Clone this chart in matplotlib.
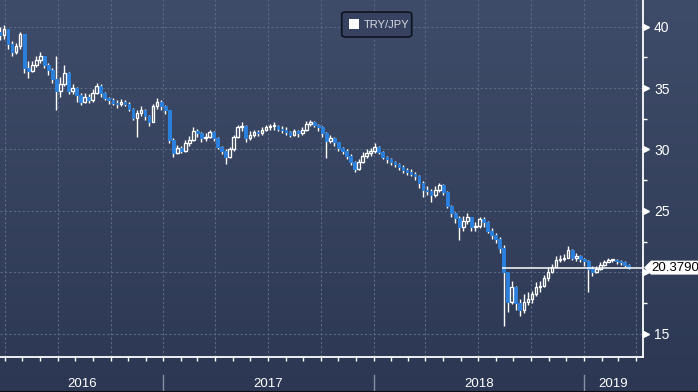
import numpy as np
import pandas as pd
import matplotlib
matplotlib.use("Agg")
import matplotlib.pyplot as plt
import matplotlib.dates as mdates
from matplotlib.patches import FancyBboxPatch, Rectangle, Polygon
from matplotlib.transforms import blended_transform_factory

# ---- data: weekly TRY/JPY candles ----
first_week = "2016-03-23"
first_open = 39.6
closes = [
    39.3, 39.8, 38.6, 37.9, 38.4, 39.4, 36.6, 36.4, 36.9, 37.3,
    37.6, 36.9, 36.5, 35.7, 34.8, 35.3, 36.2, 34.8, 35.0, 34.4,
    33.9, 34.3, 34.0, 34.6, 35.2, 34.6, 34.2, 34.0, 33.8, 33.7,
    33.9, 33.7, 33.3, 32.6, 33.0, 33.2, 32.7, 32.2, 33.5, 33.9,
    33.5, 33.2, 30.8, 29.7, 30.1, 29.9, 30.5, 30.8, 31.5, 31.3,
    30.9, 31.0, 31.4, 30.9, 30.2, 29.9, 29.4, 30.0, 31.0, 31.8,
    31.9, 30.9, 31.2, 31.4, 31.3, 31.6, 31.8, 31.9, 31.9, 31.7,
    31.6, 31.4, 31.2, 31.5, 31.3, 31.6, 32.1, 32.2, 32.0, 31.8,
    31.3, 30.7, 30.9, 30.6, 30.1, 29.9, 29.5, 29.0, 28.4, 29.0,
    29.5, 29.7, 29.9, 30.2, 29.8, 29.4, 29.2, 29.0, 28.8, 28.6,
    28.3, 28.2, 28.0, 27.8, 27.3, 26.7, 26.6, 26.3, 26.7, 27.1,
    26.5, 25.4, 24.8, 24.4, 23.7, 24.2, 24.5, 23.7, 23.8, 24.3,
    24.1, 23.4, 23.0, 22.7, 22.0, 20.0, 17.6, 18.8, 17.5, 16.9,
    17.6, 17.8, 18.2, 18.8, 18.9, 19.5, 20.0, 20.4, 21.0, 21.1,
    21.2, 21.8, 21.2, 21.3, 21.1, 20.9, 20.3, 20.0, 20.3, 20.6,
    20.8, 21.0, 21.0, 20.9, 20.8, 20.6, 20.38,
]
highs = [
    40.0, 40.1, 39.7, 38.8, 38.7, 39.6, 39.3, 37.2, 37.2, 37.6,
    37.9, 37.6, 37.0, 36.6, 37.6, 35.9, 36.9, 36.3, 35.3, 35.1,
    34.6, 34.6, 34.5, 34.9, 35.4, 35.3, 34.7, 34.3, 34.2, 34.0,
    34.1, 34.0, 33.9, 33.4, 33.2, 33.5, 33.3, 32.8, 33.7, 34.2,
    34.0, 33.6, 33.2, 30.9, 30.4, 30.3, 30.8, 31.1, 31.8, 31.7,
    31.4, 31.3, 31.6, 31.5, 31.0, 30.3, 30.0, 30.2, 31.2, 32.0,
    32.2, 32.0, 31.5, 31.6, 31.6, 31.8, 32.0, 32.1, 32.2, 32.0,
    31.9, 31.8, 31.5, 31.7, 31.6, 31.8, 32.3, 32.4, 32.3, 32.1,
    31.9, 31.4, 31.2, 31.0, 30.6, 30.2, 30.0, 29.6, 29.1, 29.2,
    29.8, 30.0, 30.1, 30.5, 30.3, 29.9, 29.5, 29.3, 29.1, 28.9,
    28.7, 28.5, 28.4, 28.2, 27.9, 27.4, 27.0, 26.8, 27.0, 27.3,
    27.2, 26.6, 25.5, 24.9, 24.6, 24.6, 24.8, 24.5, 24.1, 24.5,
    24.5, 24.2, 23.6, 23.2, 22.9, 22.2, 19.5, 19.3, 18.9, 17.8,
    18.2, 18.4, 18.5, 19.2, 19.3, 19.8, 20.4, 20.7, 21.3, 21.4,
    21.5, 22.1, 21.9, 21.6, 21.4, 21.2, 21.0, 20.5, 20.5, 20.8,
    21.0, 21.2, 21.1, 21.1, 21.0, 20.9, 20.7,
]
lows = [
    38.9, 39.0, 38.2, 37.6, 37.8, 38.2, 36.2, 35.8, 36.3, 36.7,
    37.0, 36.6, 36.1, 35.4, 33.2, 34.3, 35.2, 34.5, 34.5, 33.9,
    33.6, 33.8, 33.8, 33.9, 34.5, 34.3, 34.0, 33.7, 33.6, 33.4,
    33.5, 33.5, 33.1, 32.4, 31.0, 32.7, 32.4, 31.9, 32.2, 33.3,
    33.2, 32.9, 30.5, 29.4, 29.6, 29.7, 29.8, 30.3, 30.7, 31.0,
    30.6, 30.7, 30.9, 30.7, 30.0, 29.6, 28.8, 29.3, 29.9, 30.9,
    31.5, 30.6, 30.8, 31.0, 31.1, 31.2, 31.5, 31.6, 31.6, 31.5,
    31.3, 31.2, 31.0, 31.1, 31.0, 31.2, 31.5, 31.9, 31.8, 31.5,
    31.0, 29.3, 30.5, 30.3, 29.9, 29.6, 29.2, 28.7, 28.2, 28.3,
    28.9, 29.3, 29.5, 29.7, 29.6, 29.2, 28.9, 28.7, 28.6, 28.3,
    28.1, 27.9, 27.8, 27.5, 26.9, 26.1, 26.3, 25.7, 26.1, 26.5,
    26.3, 25.2, 24.5, 24.0, 22.6, 23.4, 23.9, 23.4, 23.4, 23.6,
    23.7, 23.2, 22.7, 22.4, 21.6, 15.6, 16.8, 17.4, 16.9, 16.4,
    16.7, 17.3, 17.5, 18.1, 18.4, 18.8, 19.3, 19.9, 20.4, 20.8,
    20.9, 21.2, 21.0, 20.9, 20.8, 20.5, 18.4, 19.7, 19.9, 20.2,
    20.5, 20.8, 20.8, 20.7, 20.6, 20.4, 20.3,
]
last_price = 20.3790
last_line_start = "2018-08-12"
y_major = [15, 20, 25, 30, 35, 40]
y_minor = [17.5, 22.5, 27.5, 32.5, 37.5]
years = [2016, 2017, 2018, 2019]
series_name = "TRY/JPY"

BLUE = "#2a80dc"
GRID = "#5a6a86"
W, H = 698, 392

dates = pd.date_range(first_week, periods=len(closes), freq="7D")
closes = np.array(closes)
opens = np.concatenate([[first_open], closes[:-1]])
highs = np.maximum(np.array(highs), np.maximum(opens, closes))
lows = np.minimum(np.array(lows), np.minimum(opens, closes))
top = np.maximum(opens, closes)
bot = np.minimum(opens, closes)

fig = plt.figure(figsize=(6.98, 3.92), dpi=100)

# gradient background
bg = fig.add_axes([0, 0, 1, 1], zorder=0)
grad = np.linspace(0, 1, 256).reshape(-1, 1)
cmap = matplotlib.colors.LinearSegmentedColormap.from_list("bg", ["#3f4c69", "#2c3853"])
bg.imshow(grad, aspect="auto", cmap=cmap, extent=[0, 1, 0, 1])
bg.axis("off")

ax = fig.add_axes([0, 35 / H, 643 / W, 357 / H], zorder=1)
ax.set_facecolor("none")

x0 = mdates.date2num(pd.Timestamp("2016-03-23"))
x1 = mdates.date2num(pd.Timestamp("2019-04-14"))
ax.set_xlim(x0, x1)
ax.set_ylim(13.1, 42.17)

# candles
xd = mdates.date2num(dates)
w = 4.6
up = closes >= opens
ax.vlines(xd, top, highs, color="white", lw=1.0, zorder=3)
ax.vlines(xd, lows, bot, color="white", lw=1.0, zorder=3)
ax.bar(xd[~up], (opens - closes)[~up], bottom=closes[~up], width=w,
       color=BLUE, edgecolor=BLUE, lw=0.7, zorder=4)
ax.bar(xd[up], np.maximum(closes - opens, 0.08)[up], bottom=opens[up], width=w,
       facecolor="none", edgecolor="white", lw=0.95, zorder=4)

# last price line
ax.hlines(last_price, mdates.date2num(pd.Timestamp(last_line_start)), x1,
          color="white", lw=1.1, zorder=5)

# axes styling
for s in ["top", "left"]:
    ax.spines[s].set_visible(False)
for s in ["right", "bottom"]:
    ax.spines[s].set_color("white")
    ax.spines[s].set_linewidth(1.3)

ax.yaxis.tick_right()
ax.set_yticks(y_major)
ax.set_yticklabels(["" if v == 20 else str(v) for v in y_major])
ax.set_yticks(y_minor, minor=True)
ax.tick_params(axis="y", which="major", length=0, pad=8, labelcolor="white",
               labelsize=10)
ax.tick_params(axis="y", which="minor", length=3, width=1, color="white",
               direction="out")
for lab in ax.get_yticklabels():
    lab.set_fontfamily("Liberation Sans")

ax.xaxis.set_major_locator(mdates.MonthLocator(bymonth=[1, 4, 7, 10]))
ax.xaxis.set_minor_locator(mdates.MonthLocator())
ax.tick_params(axis="x", which="both", length=3, width=1, color="white",
               direction="out", labelbottom=False)

ax.grid(True, which="major", color=GRID, lw=0.8, linestyle=(0, (2, 2)))
ax.set_axisbelow(True)

# triangle markers on major y ticks
tr = blended_transform_factory(ax.transAxes, ax.transData)
ax.plot([1.0045] * len(y_major), y_major, marker=">", ms=5, color="white",
        lw=0, transform=tr, clip_on=False, zorder=6)

# year labels along the bottom
xtr = blended_transform_factory(ax.transData, ax.transAxes)
for yr in years:
    a = max(mdates.date2num(pd.Timestamp(f"{yr}-01-01")), x0)
    b = min(mdates.date2num(pd.Timestamp(f"{yr + 1}-01-01")), x1)
    ax.text((a + b) / 2, -0.075, str(yr), transform=xtr,
            ha="center", va="center", color="white", fontsize=9.5,
            family="Liberation Sans", clip_on=False)
    if yr > years[0]:
        ax.plot([a, a], [-0.05, -0.1], color="#8690a4", lw=1,
                transform=xtr, clip_on=False)

# last price tag
yp = ax.transData.transform((x1, last_price))[1]
tag = Polygon([(644 / W, yp / H), (651 / W, (yp + 7) / H), (698 / W, (yp + 7) / H),
               (698 / W, (yp - 7) / H), (651 / W, (yp - 7) / H)],
              closed=True, transform=fig.transFigure, facecolor="white",
              edgecolor="none", zorder=7)
fig.add_artist(tag)
fig.text(675.5 / W, yp / H, f"{last_price:.4f}", ha="center", va="center",
         color="black", fontsize=9.5, family="Liberation Sans", zorder=8)

# legend box
box = FancyBboxPatch((341.7 / W, 1 - 37 / H), 70 / W, 25 / H,
                     boxstyle="round,pad=0,rounding_size=0.006",
                     transform=fig.transFigure, facecolor="#36425f",
                     edgecolor="#0e1320", lw=1.2, zorder=7)
fig.add_artist(box)
fig.add_artist(Rectangle((349 / W, 1 - 29 / H), 10 / W, 10 / H,
                         transform=fig.transFigure, facecolor="white",
                         edgecolor="none", zorder=8))
fig.text(364 / W, 1 - 24.7 / H, series_name, ha="left", va="center",
         color="#d5d9e2", fontsize=8, family="Liberation Sans", zorder=8)

# thin dark line at the very bottom
fig.add_artist(plt.Line2D([0, 1], [0.5 / H, 0.5 / H], color="#0c0f16", lw=1.5,
                          transform=fig.transFigure))

fig.savefig("out.png", dpi=100)
